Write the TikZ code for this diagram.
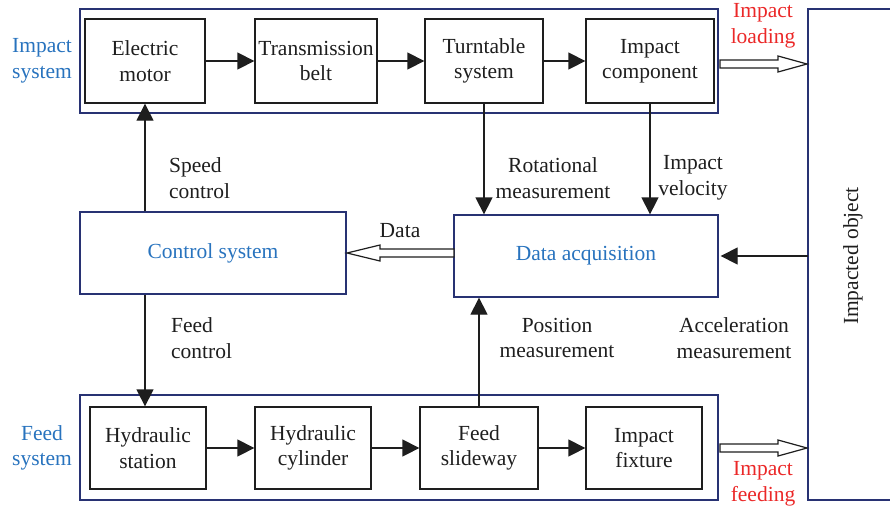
\documentclass[tikz,border=0pt]{standalone}
\usepackage{fontspec}
\setmainfont{Liberation Serif}
\usetikzlibrary{arrows.meta,calc}
\definecolor{sysblue}{RGB}{40,115,190}
\definecolor{lblred}{RGB}{235,40,40}
\definecolor{navy}{RGB}{40,50,115}
\definecolor{ink}{RGB}{30,30,30}
\newcommand{\hollowarr}[3]{%
  \draw[hollowline] ($(#1)+(0,-4)$) -- ($(#2)+(#3,-4)$) -- ($(#2)+(#3,-8)$) -- (#2)
    -- ($(#2)+(#3,8)$) -- ($(#2)+(#3,4)$) -- ($(#1)+(0,4)$) -- cycle;}
\begin{document}
\begin{tikzpicture}[x=1pt,y=-1pt,
  every node/.style={font=\fontsize{21.5}{25.5}\selectfont, text=ink, align=center, inner sep=0pt},
  blk/.style={draw=ink, line width=1.3pt, minimum height=84pt},
  outer/.style={draw=navy, line width=1.3pt},
  sys/.style={text=sysblue},
  red/.style={text=lblred},
  arr/.style={draw=ink, line width=1.3pt, -{Triangle[length=17pt,width=17pt]}},
  hollowline/.style={draw=ink, line width=1.2pt, fill=white}]
\useasboundingbox (0,0) rectangle (890,507);
% outer boxes
\node[outer, minimum width=638pt, minimum height=104pt] (impsys) at (399,61) {};
\node[outer, minimum width=638pt, minimum height=105pt] (feedsys) at (399,447.5) {};
\draw[navy, line width=1.3pt] (892,9) -- (808,9) -- (808,500) -- (892,500);
\node[rotate=90] (obj) at (853,256) {Impacted object};
\coordinate (objw) at (808,256);
% impact system blocks
\node[blk, minimum width=120pt] (motor) at (145,61) {Electric\\motor};
\node[blk, minimum width=122pt] (belt) at (316,61) {Transmission\\belt};
\node[blk, minimum width=118pt] (turn) at (484,61) {Turntable\\system};
\node[blk, minimum width=128pt] (comp) at (650,61) {Impact\\component};
% feed system blocks
\node[blk, minimum width=116pt, minimum height=82pt] (station) at (148,448) {Hydraulic\\station};
\node[blk, minimum width=116pt, minimum height=82pt] (cyl) at (313,448) {Hydraulic\\cylinder};
\node[blk, minimum width=118pt, minimum height=82pt] (slide) at (479,448) {Feed\\slideway};
\node[blk, minimum width=116pt, minimum height=82pt] (fix) at (644,448) {Impact\\fixture};
% middle
\node[outer, sys, minimum width=266pt, minimum height=82pt] (ctrl) at (213,253) {Control system};
\node[outer, sys, minimum width=264pt, minimum height=82pt] (da) at (586,256) {Data acquisition};
% side labels
\node[sys] (l1) at (42,61) {Impact\\system};
\node[sys] (l2) at (42,448) {Feed\\system};
\node[red] (l3) at (763,26) {Impact\\loading};
\node[red] (l4) at (763,484) {Impact\\feeding};
% horizontal chain arrows
\draw[arr] (motor) -- (belt);
\draw[arr] (belt) -- (turn);
\draw[arr] (turn) -- (comp);
\draw[arr] (station) -- (cyl);
\draw[arr] (cyl) -- (slide);
\draw[arr] (slide) -- (fix);
% vertical arrows
\draw[arr] (ctrl.north -| motor) -- (motor.south);
\draw[arr] (ctrl.south -| motor) -- (station.north -| motor);
\draw[arr] (turn.south) -- (turn.south |- da.north);
\draw[arr] (comp.south) -- (comp.south |- da.north);
\draw[arr] (slide.north) -- (slide.north |- da.south);
\draw[arr] (objw) -- ([xshift=2pt]da.east);
% hollow arrows
\coordinate (h1a) at (720,64);
\coordinate (h1b) at (807,64);
\coordinate (h2a) at (720,448);
\coordinate (h2b) at (807,448);
\coordinate (h3a) at (454,253);
\coordinate (h3b) at (347,253);
\hollowarr{h1a}{h1b}{-29}
\hollowarr{h2a}{h2b}{-29}
\hollowarr{h3a}{h3b}{33}
% connector labels
\node[align=left, anchor=west] (t1) at (169,178) {Speed\\control};
\node[align=left, anchor=west] (t2) at (171,338) {Feed\\control};
\node (t3) at (553,178) {Rotational\\measurement};
\node (t4) at (693,178) {Impact\\velocity};
\node (t5) at (400,231) {Data};
\node (t6) at (557,338) {Position\\measurement};
\node (t7) at (734,338) {Acceleration\\measurement};
\end{tikzpicture}
\end{document}
